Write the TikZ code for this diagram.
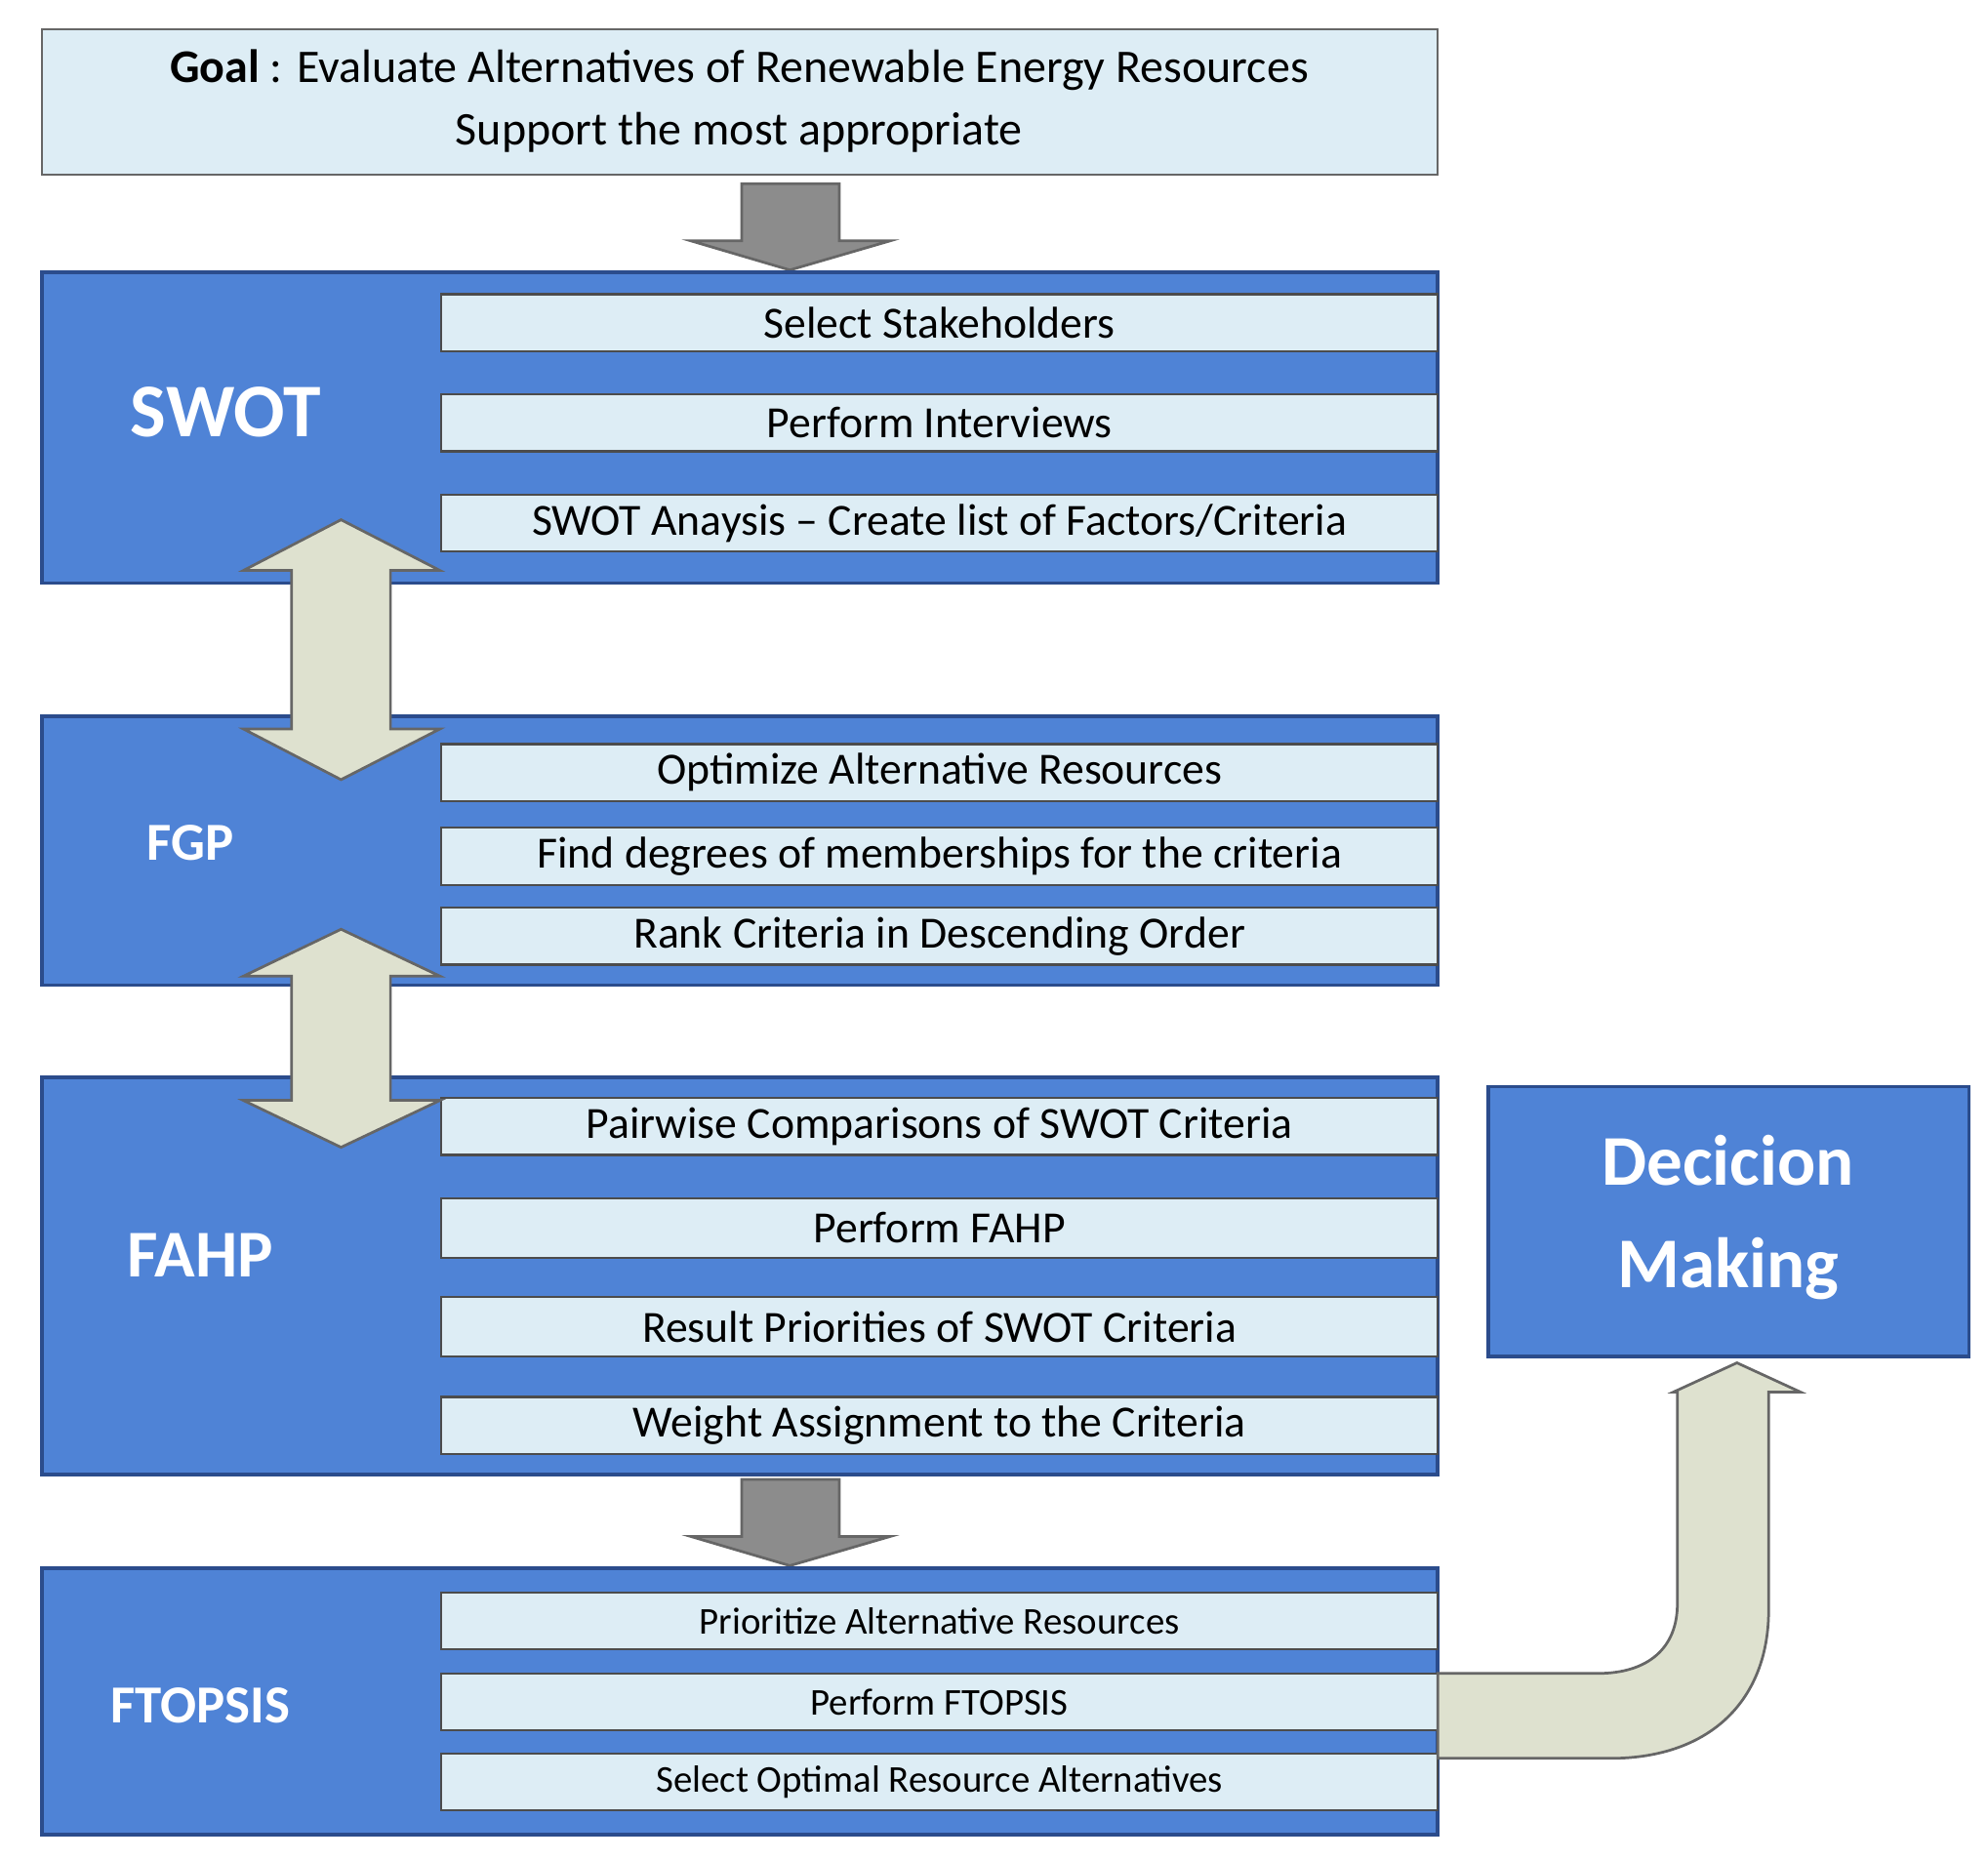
\documentclass[tikz,border=0pt]{standalone}
\usepackage{fontspec}
\setmainfont{Carlito}
\definecolor{blk}{HTML}{4F83D6}
\definecolor{blkb}{HTML}{2B4C8C}
\definecolor{lite}{HTML}{DDEDF5}
\definecolor{arr}{HTML}{DEE1CF}
\definecolor{garr}{HTML}{8C8C8C}
\begin{document}
\begin{tikzpicture}[x=0.01cm,y=-0.01cm,
  block/.style={draw=blkb,line width=0.8pt,fill=blk},
  sub/.style={draw=black!70,line width=0.5pt,fill=lite,font=\fontsize{10}{12}\selectfont},
  lab/.style={text=white,font=\bfseries},
  barr/.style={draw=black!60,line width=0.6pt,fill=arr},
  garrow/.style={draw=black!60,line width=0.6pt,fill=garr}]
\useasboundingbox (0,0) rectangle (1568,1467);
% goal
\draw[draw=black!60,fill=lite] (33,23) rectangle (1134,138);
\node[font=\fontsize{10.5}{14}\selectfont,align=center] (goal) at (583,80) {\textbf{Goal} : Evaluate Alternatives of Renewable Energy Resources\\Support the most appropriate};
% gray arrow 1
\draw[garrow] (585,145) -- (662,145) -- (662,190) -- (702,190) -- (623,213) -- (545,190) -- (585,190) -- cycle;
% SWOT
\draw[block] (33,215) rectangle (1134,460);
\node[lab,font=\fontsize{17}{20}\selectfont\bfseries] (swot) at (178,325) {SWOT};
\foreach \t/\a/\b [count=\i] in {Select Stakeholders/232/277,Perform Interviews/311/356,{SWOT Anaysis -- Create list of Factors/Criteria}/390/435}{
  \draw[sub] (348,\a) rectangle (1134,\b);
  \node[font=\fontsize{10}{12}\selectfont] (s\i) at (741,{(\a+\b)/2}) {\t};}
% FGP
\draw[block] (33,565) rectangle (1134,777);
\node[lab,font=\fontsize{12}{14}\selectfont\bfseries] (fgp) at (150,665) {FGP};
\foreach \t/\a/\b [count=\i] in {Optimize Alternative Resources/587/632,Find degrees of memberships for the criteria/653/698,Rank Criteria in Descending Order/716/761}{
  \draw[sub] (348,\a) rectangle (1134,\b);
  \node[font=\fontsize{10}{12}\selectfont] (g\i) at (741,{(\a+\b)/2}) {\t};}
% FAHP
\draw[block] (33,850) rectangle (1134,1163);
\node[lab,font=\fontsize{15}{18}\selectfont\bfseries] (fahp) at (158,990) {FAHP};
\foreach \t/\a/\b [count=\i] in {Pairwise Comparisons of SWOT Criteria/866/911,Perform FAHP/945/992,Result Priorities of SWOT Criteria/1023/1070,Weight Assignment to the Criteria/1102/1147}{
  \draw[sub] (348,\a) rectangle (1134,\b);
  \node[font=\fontsize{10}{12}\selectfont] (h\i) at (741,{(\a+\b)/2}) {\t};}
% gray arrow 2
\draw[garrow] (585,1167) -- (662,1167) -- (662,1212) -- (702,1212) -- (623,1235) -- (545,1212) -- (585,1212) -- cycle;
% FTOPSIS
\draw[block] (33,1237) rectangle (1134,1447);
\node[lab,font=\fontsize{12}{14}\selectfont\bfseries] (ftop) at (158,1345) {FTOPSIS};
\foreach \t/\a/\b [count=\i] in {Prioritize Alternative Resources/1256/1301,Perform FTOPSIS/1320/1365,Select Optimal Resource Alternatives/1383/1428}{
  \draw[sub] (348,\a) rectangle (1134,\b);
  \node[font=\fontsize{8.5}{10}\selectfont] (t\i) at (741,{(\a+\b)/2}) {\t};}
% decision
\draw[block] (1174,857) rectangle (1553,1070);
\node[lab,align=center,font=\fontsize{16}{23}\selectfont\bfseries] (dec) at (1363,960) {Decicion\\Making};
% double arrows
\draw[barr] (269,410) -- (347,450) -- (308,450) -- (308,575) -- (347,575) -- (269,615) -- (192,575) -- (230,575) -- (230,450) -- (192,450) -- cycle;
\draw[barr] (269,733) -- (347,770) -- (308,770) -- (308,868) -- (347,868) -- (269,905) -- (192,868) -- (230,868) -- (230,770) -- (192,770) -- cycle;
% curved arrow
\draw[barr] (1134,1387) -- (1270,1387) .. controls (1350,1387) and (1395,1340) .. (1395,1270) -- (1395,1098) -- (1420,1098) -- (1370,1075) -- (1320,1098) -- (1323,1098) -- (1323,1265) .. controls (1323,1300) and (1300,1320) .. (1260,1320) -- (1134,1320) -- cycle;
\end{tikzpicture}
\end{document}
